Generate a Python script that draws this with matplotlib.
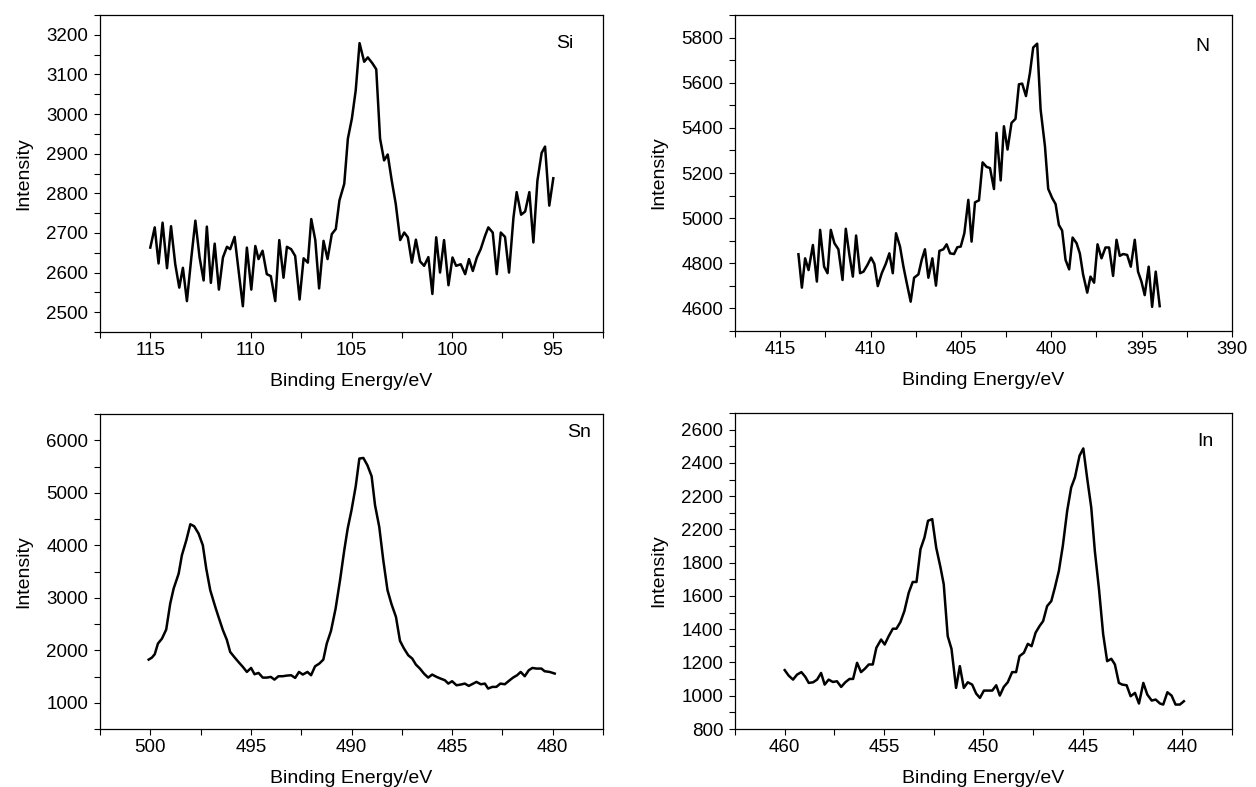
import matplotlib
matplotlib.use("Agg")
import matplotlib.pyplot as plt
from matplotlib.ticker import MultipleLocator, FixedLocator, FixedFormatter

plt.rcParams.update({'font.family': ['Liberation Sans', 'DejaVu Sans'], 'font.size': 13.5})

# ---- Si 2p ----
si_be = [115.00, 114.78, 114.59, 114.39, 114.17, 113.97, 113.76, 113.56, 113.38, 113.18,
         112.96, 112.76, 112.55, 112.35, 112.19, 111.99, 111.80, 111.59, 111.39, 111.19,
         111.03, 110.81, 110.61, 110.40, 110.20, 109.98, 109.78, 109.62, 109.42, 109.21,
         109.01, 108.79, 108.59, 108.38, 108.21, 108.00, 107.80, 107.58, 107.38, 107.17,
         107.00, 106.80, 106.61, 106.39, 106.19, 105.98, 105.78, 105.60, 105.36, 105.18,
         104.98, 104.79, 104.60, 104.37, 104.19, 103.96, 103.77, 103.58, 103.38, 103.20,
         103.00, 102.80, 102.58, 102.38, 102.20, 102.00, 101.80, 101.59, 101.39, 101.18,
         100.98, 100.79, 100.60, 100.40, 100.18, 99.98, 99.80, 99.57, 99.35, 99.16,
         98.97, 98.77, 98.58, 98.36, 98.20, 97.98, 97.78, 97.58, 97.37, 97.17,
         96.95, 96.79, 96.57, 96.37, 96.16, 95.96, 95.76, 95.55, 95.38, 95.17, 94.97]
si_int = [2663, 2714, 2623, 2726, 2611, 2717, 2621, 2562, 2612, 2528,
          2638, 2731, 2638, 2580, 2716, 2574, 2673, 2557, 2638, 2665,
          2659, 2690, 2604, 2515, 2663, 2557, 2667, 2634, 2655, 2596,
          2591, 2528, 2682, 2587, 2665, 2659, 2642, 2532, 2636, 2625,
          2735, 2682, 2560, 2680, 2634, 2697, 2710, 2782, 2824, 2938,
          2989, 3060, 3179, 3132, 3143, 3128, 3113, 2938, 2883, 2898,
          2832, 2773, 2682, 2701, 2689, 2625, 2683, 2628, 2617, 2639,
          2546, 2689, 2600, 2682, 2568, 2638, 2617, 2621, 2596, 2634,
          2604, 2638, 2659, 2693, 2714, 2701, 2596, 2701, 2690, 2600,
          2739, 2803, 2746, 2754, 2803, 2676, 2832, 2902, 2918, 2769, 2838]

# ---- N 1s ----
n_be = [413.99, 413.80, 413.62, 413.43, 413.19, 412.97, 412.79, 412.57, 412.38, 412.20,
        412.00, 411.78, 411.55, 411.37, 411.17, 410.98, 410.80, 410.58, 410.39, 410.17,
        409.97, 409.79, 409.60, 409.38, 409.16, 408.96, 408.77, 408.59, 408.37, 408.18,
        408.00, 407.78, 407.59, 407.35, 407.17, 406.99, 406.80, 406.58, 406.38, 406.19,
        405.97, 405.79, 405.60, 405.38, 405.20, 405.01, 404.81, 404.59, 404.41, 404.22,
        404.00, 403.80, 403.58, 403.39, 403.17, 403.03, 402.80, 402.62, 402.42, 402.20,
        401.98, 401.79, 401.61, 401.40, 401.18, 401.00, 400.78, 400.59, 400.35, 400.17,
        399.95, 399.76, 399.58, 399.40, 399.21, 399.01, 398.82, 398.60, 398.42, 398.24,
        398.01, 397.83, 397.63, 397.44, 397.22, 397.00, 396.80, 396.58, 396.39, 396.21,
        396.02, 395.80, 395.60, 395.38, 395.20, 395.01, 394.83, 394.61, 394.42, 394.22, 394.00]
n_int = [4840, 4692, 4822, 4770, 4881, 4719, 4948, 4785, 4756, 4948,
         4889, 4862, 4726, 4953, 4837, 4741, 4923, 4756, 4763, 4793,
         4825, 4797, 4699, 4756, 4797, 4844, 4756, 4933, 4874, 4785,
         4714, 4630, 4736, 4751, 4815, 4862, 4736, 4822, 4701, 4855,
         4862, 4884, 4844, 4841, 4871, 4874, 4933, 5081, 4896, 5070,
         5079, 5247, 5227, 5222, 5129, 5378, 5167, 5407, 5304, 5422,
         5440, 5593, 5596, 5541, 5644, 5756, 5773, 5481, 5319, 5130,
         5089, 5062, 4970, 4945, 4815, 4773, 4914, 4889, 4844, 4751,
         4670, 4741, 4714, 4884, 4822, 4870, 4870, 4744, 4904, 4833,
         4841, 4837, 4785, 4904, 4763, 4719, 4659, 4785, 4607, 4763, 4610]

# ---- Sn 3d ----
sn_be = [500.08, 499.92, 499.78, 499.62, 499.42, 499.21, 499.01, 498.84, 498.59, 498.43,
         498.21, 498.01, 497.82, 497.60, 497.39, 497.22, 497.02, 496.77, 496.61, 496.39,
         496.20, 496.03, 495.83, 495.62, 495.40, 495.20, 494.99, 494.82, 494.62, 494.41,
         494.21, 494.01, 493.83, 493.63, 493.42, 493.22, 493.00, 492.80, 492.61, 492.42,
         492.19, 492.01, 491.81, 491.60, 491.40, 491.23, 491.02, 490.79, 490.57, 490.36,
         490.19, 490.00, 489.79, 489.61, 489.41, 489.21, 489.00, 488.83, 488.62, 488.42,
         488.21, 488.01, 487.79, 487.59, 487.39, 487.18, 486.98, 486.80, 486.60, 486.40,
         486.19, 485.99, 485.77, 485.57, 485.36, 485.19, 485.00, 484.78, 484.58, 484.37,
         484.17, 483.95, 483.79, 483.57, 483.37, 483.21, 483.00, 482.80, 482.60, 482.38,
         482.18, 481.97, 481.77, 481.59, 481.39, 481.19, 481.01, 480.81, 480.56, 480.40,
         480.15, 479.90]
sn_int = [1822, 1860, 1924, 2127, 2222, 2394, 2889, 3175, 3460, 3810,
          4095, 4400, 4362, 4222, 4000, 3556, 3143, 2825, 2635, 2381,
          2203, 1968, 1873, 1778, 1683, 1587, 1663, 1543, 1568, 1479,
          1479, 1492, 1441, 1505, 1505, 1517, 1524, 1473, 1587, 1537,
          1587, 1524, 1695, 1746, 1822, 2127, 2368, 2794, 3333, 3905,
          4317, 4667, 5124, 5651, 5663, 5524, 5314, 4762, 4349, 3714,
          3143, 2876, 2635, 2178, 2032, 1905, 1841, 1727, 1651, 1556,
          1479, 1537, 1492, 1460, 1429, 1365, 1410, 1333, 1346, 1365,
          1321, 1365, 1397, 1352, 1365, 1270, 1302, 1302, 1365, 1352,
          1416, 1479, 1524, 1587, 1505, 1619, 1663, 1651, 1651, 1600,
          1587, 1556]

# ---- In 3d ----
in_be = [460.00, 459.80, 459.58, 459.38, 459.16, 458.96, 458.79, 458.57, 458.37, 458.17,
         457.99, 457.79, 457.58, 457.37, 457.16, 456.95, 456.74, 456.56, 456.36, 456.16,
         455.97, 455.77, 455.57, 455.39, 455.15, 454.97, 454.77, 454.56, 454.38, 454.18,
         453.98, 453.76, 453.56, 453.37, 453.17, 452.97, 452.79, 452.58, 452.38, 452.16,
         452.00, 451.80, 451.61, 451.38, 451.19, 450.99, 450.79, 450.57, 450.37, 450.18,
         449.98, 449.77, 449.56, 449.36, 449.18, 448.98, 448.78, 448.56, 448.36, 448.19,
         447.97, 447.77, 447.58, 447.38, 447.18, 447.00, 446.80, 446.59, 446.41, 446.21,
         446.01, 445.79, 445.59, 445.40, 445.17, 444.98, 444.78, 444.58, 444.40, 444.19,
         443.98, 443.78, 443.57, 443.39, 443.19, 443.02, 442.80, 442.60, 442.38, 442.18,
         441.96, 441.76, 441.54, 441.34, 441.12, 440.96, 440.75, 440.54, 440.34, 440.12,
         439.92]
in_int = [1154, 1121, 1097, 1127, 1142, 1113, 1077, 1081, 1097, 1137,
          1067, 1097, 1083, 1087, 1053, 1081, 1101, 1101, 1198, 1142,
          1162, 1188, 1188, 1288, 1338, 1308, 1358, 1403, 1403, 1443,
          1509, 1620, 1684, 1684, 1881, 1951, 2052, 2062, 1891, 1770,
          1670, 1358, 1282, 1047, 1178, 1047, 1081, 1067, 1013, 987,
          1031, 1031, 1031, 1063, 1001, 1053, 1081, 1142, 1142, 1238,
          1258, 1312, 1298, 1379, 1419, 1449, 1539, 1569, 1650, 1750,
          1901, 2112, 2252, 2313, 2443, 2487, 2303, 2132, 1871, 1640,
          1369, 1208, 1222, 1188, 1077, 1067, 1063, 997, 1017, 953,
          1077, 1007, 971, 977, 953, 947, 1021, 1001, 947, 947,
          967]
in_ticks = [800, 1000, 1200, 1400, 1600, 1800, 2000, 2200, 2400, 2600]
# the source figure prints "2200" at the 2000 tick; kept as shown
in_ticklabels = ['800', '1000', '1200', '1400', '1600', '1800', '2200', '2200', '2400', '2600']

W, H = 1256, 787
fig = plt.figure(figsize=(W / 100, H / 100), dpi=100)


def px_axes(left, top, right, bottom):
    return fig.add_axes([left / W, 1 - bottom / H, (right - left) / W, (bottom - top) / H])


def style(ax, x, y, xlim, ylim, xmaj, ymaj, ymin, name, tx, ty):
    ax.plot(x, y, color='black', lw=1.8)
    ax.set_xlim(*xlim)
    ax.set_ylim(*ylim)
    ax.xaxis.set_major_locator(MultipleLocator(xmaj))
    ax.xaxis.set_minor_locator(MultipleLocator(xmaj / 2))
    if ymaj is not None:
        ax.yaxis.set_major_locator(MultipleLocator(ymaj))
    ax.yaxis.set_minor_locator(MultipleLocator(ymin))
    ax.tick_params(which='both', direction='out', length=4, width=0.8)
    ax.tick_params(axis='x', pad=3)
    ax.tick_params(axis='y', pad=4.5)
    for s in ax.spines.values():
        s.set_linewidth(0.9)
    ax.set_xlabel('Binding Energy/eV', labelpad=10, fontsize=14)
    ax.set_ylabel('Intensity', labelpad=10, fontsize=14)
    ax.text(tx, ty, name, transform=ax.transAxes, ha='center', va='center', fontsize=14)


ax1 = px_axes(100, 15, 603, 332)
style(ax1, si_be, si_int, (117.5, 92.5), (2450, 3250), 5, 100, 50, 'Si', 0.925, 0.91)

ax2 = px_axes(735, 15, 1232, 331)
style(ax2, n_be, n_int, (417.5, 390), (4500, 5900), 5, 200, 100, 'N', 0.94, 0.90)

ax3 = px_axes(100, 414, 603, 729)
style(ax3, sn_be, sn_int, (502.5, 477.5), (500, 6500), 5, 1000, 500, 'Sn', 0.952, 0.94)

ax4 = px_axes(735, 413, 1232, 729)
style(ax4, in_be, in_int, (462.5, 437.5), (800, 2700), 5, None, 100, 'In', 0.946, 0.91)
ax4.yaxis.set_major_locator(FixedLocator(in_ticks))
ax4.yaxis.set_major_formatter(FixedFormatter(in_ticklabels))

fig.savefig('out.png', dpi=100)
